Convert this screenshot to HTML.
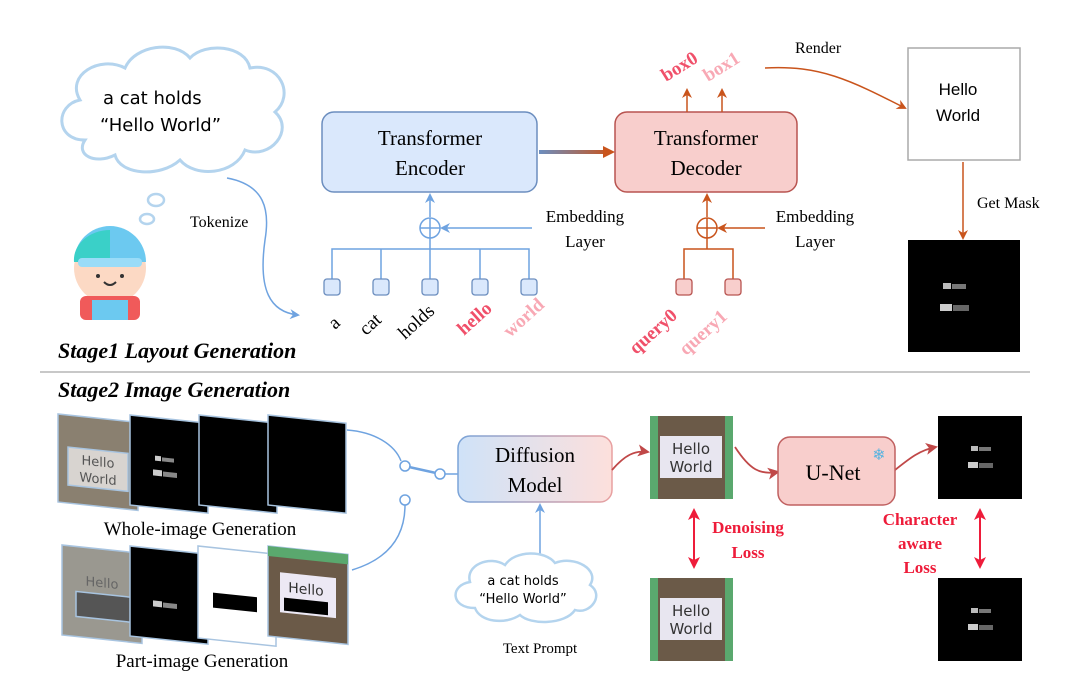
<!DOCTYPE html>
<html><head><meta charset="utf-8"><style>
html,body{margin:0;padding:0;background:#fff;}
svg{display:block;}
.s{font-family:"Liberation Serif",serif;}
.c{font-family:"DejaVu Sans","Liberation Sans",sans-serif;}
</style></head><body>
<svg width="1080" height="685" viewBox="0 0 1080 685" xmlns="http://www.w3.org/2000/svg">
<defs>
<marker id="ab" markerWidth="10" markerHeight="10" refX="8" refY="5" orient="auto" markerUnits="userSpaceOnUse"><path d="M0,0 L10,5 L0,10 L3,5 z" fill="#6fa3e0"/></marker>
<marker id="ao" markerWidth="10" markerHeight="10" refX="8" refY="5" orient="auto" markerUnits="userSpaceOnUse"><path d="M0,0 L10,5 L0,10 L3,5 z" fill="#c9541c"/></marker>
<marker id="ar" markerWidth="12" markerHeight="12" refX="10" refY="6" orient="auto" markerUnits="userSpaceOnUse"><path d="M0,0 L12,6 L0,12 L3,6 z" fill="#c04848"/></marker>
<marker id="aR" markerWidth="12" markerHeight="12" refX="10" refY="6" orient="auto-start-reverse" markerUnits="userSpaceOnUse"><path d="M0,0 L12,6 L0,12 L3,6 z" fill="#ee1c3a"/></marker>
<linearGradient id="g1" gradientUnits="userSpaceOnUse" x1="539" y1="0" x2="612" y2="0"><stop offset="0" stop-color="#6c8ebf"/><stop offset="1" stop-color="#c9541c"/></linearGradient>
<linearGradient id="g2" x1="0" x2="1"><stop offset="0" stop-color="#cfe2f8"/><stop offset="1" stop-color="#fde0dc"/></linearGradient>
<linearGradient id="g3" x1="0" x2="1"><stop offset="0" stop-color="#7ba4d8"/><stop offset="1" stop-color="#e8a0a0"/></linearGradient>
<g id="cat">
<rect width="83" height="83" fill="#5aa86e"/>
<rect x="8" y="0" width="67" height="83" fill="#6b5a48"/>
<rect x="10" y="20" width="62" height="42" fill="#e8e6f0"/>
<text x="41" y="38" text-anchor="middle" font-family="DejaVu Sans" font-size="15" fill="#333">Hello</text>
<text x="41" y="56" text-anchor="middle" font-family="DejaVu Sans" font-size="15" fill="#333">World</text>
</g>
<g id="msk">
<rect width="84" height="83" fill="#000"/>
<rect x="33" y="30" width="7" height="5" fill="#bbb"/><rect x="41" y="31" width="12" height="4" fill="#777"/>
<rect x="30" y="46" width="10" height="6" fill="#ccc"/><rect x="41" y="47" width="14" height="5" fill="#666"/>
</g>
</defs>

<!-- cloud top -->
<path d="M85,140 C55,140 55,105 80,100 C65,75 100,55 125,68 C135,45 175,40 190,58 C205,42 245,45 250,68 C280,62 295,95 275,112 C295,130 270,160 245,150 C235,175 195,178 180,160 C160,178 120,175 115,155 C95,165 75,155 85,140 z" fill="#fff" stroke="#b4d4ee" stroke-width="3"/>
<text class="c" x="103" y="104" font-size="18">a cat holds</text>
<text class="c" x="100" y="131" font-size="18">“Hello World”</text>
<ellipse cx="156" cy="200" rx="8" ry="6" fill="#fff" stroke="#b4d4ee" stroke-width="2.5"/>
<ellipse cx="147" cy="219" rx="7" ry="5" fill="#fff" stroke="#b4d4ee" stroke-width="2.5"/>
<!-- kid -->
<circle cx="110" cy="268" r="36" fill="#fcd9c4"/>
<path d="M74,262 A36,36 0 0 1 146,262 z" fill="#6cc9f0"/>
<path d="M74,262 A36,30 0 0 1 110,230 L110,262 z" fill="#3ad0c8"/>
<rect x="78" y="258" width="64" height="9" rx="4" fill="#9adcf8"/>
<circle cx="98" cy="276" r="2" fill="#333"/><circle cx="122" cy="276" r="2" fill="#333"/>
<path d="M104,282 Q110,288 116,282" fill="none" stroke="#333" stroke-width="2"/>
<rect x="80" y="296" width="60" height="24" rx="6" fill="#f05a5a"/>
<rect x="92" y="300" width="36" height="20" fill="#6cc9f0"/>
<!-- tokenize -->
<path d="M227,178 C265,185 270,210 265,240 C258,290 270,312 298,315" fill="none" stroke="#6fa3e0" stroke-width="1.5" marker-end="url(#ab)"/>
<text class="s" x="190" y="227" font-size="16">Tokenize</text>

<!-- encoder -->
<rect x="322" y="112" width="215" height="80" rx="12" fill="#dae8fc" stroke="#6c8ebf" stroke-width="1.5"/>
<text class="s" x="430" y="145" font-size="21" text-anchor="middle">Transformer</text>
<text class="s" x="430" y="175" font-size="21" text-anchor="middle">Encoder</text>
<line x1="539" y1="152" x2="607" y2="152" stroke="url(#g1)" stroke-width="4"/>
<path d="M603,146 L615,152 L603,158 z" fill="#c9541c"/>
<!-- decoder -->
<rect x="615" y="112" width="182" height="80" rx="12" fill="#f8cecc" stroke="#b85450" stroke-width="1.5"/>
<text class="s" x="706" y="145" font-size="21" text-anchor="middle">Transformer</text>
<text class="s" x="706" y="175" font-size="21" text-anchor="middle">Decoder</text>

<!-- encoder inputs -->
<g stroke="#6fa3e0" stroke-width="1.5" fill="none">
<line x1="430" y1="217" x2="430" y2="195" marker-end="url(#ab)"/>
<circle cx="430" cy="228" r="10"/>
<line x1="420" y1="228" x2="440" y2="228"/><line x1="430" y1="218" x2="430" y2="249"/>
<line x1="532" y1="228" x2="442" y2="228" marker-end="url(#ab)"/>
<path d="M332,279 V249 H529 V279 M381,249 V279 M430,249 V279 M480,249 V279"/>
</g>
<g fill="#dae8fc" stroke="#6c8ebf" stroke-width="1.3">
<rect x="324" y="279" width="16" height="16" rx="3"/><rect x="373" y="279" width="16" height="16" rx="3"/><rect x="422" y="279" width="16" height="16" rx="3"/><rect x="472" y="279" width="16" height="16" rx="3"/><rect x="521" y="279" width="16" height="16" rx="3"/>
</g>
<text class="s" x="585" y="222" font-size="17" text-anchor="middle">Embedding</text>
<text class="s" x="585" y="247" font-size="17" text-anchor="middle">Layer</text>
<g class="s" font-size="19">
<text transform="translate(335,330) rotate(-42)">a</text>
<text transform="translate(366,336) rotate(-42)">cat</text>
<text transform="translate(405,340) rotate(-42)">holds</text>
<text transform="translate(464,336) rotate(-42)" fill="#f0506a" font-weight="bold">hello</text>
<text transform="translate(510,338) rotate(-42)" fill="#f8a8b4" font-weight="bold">world</text>
</g>
<!-- decoder inputs -->
<g stroke="#c9541c" stroke-width="1.5" fill="none">
<line x1="707" y1="217" x2="707" y2="195" marker-end="url(#ao)"/>
<circle cx="707" cy="228" r="10"/>
<line x1="697" y1="228" x2="717" y2="228"/><line x1="707" y1="218" x2="707" y2="249"/>
<line x1="765" y1="228" x2="719" y2="228" marker-end="url(#ao)"/>
<path d="M684,279 V249 H733 V279"/>
<line x1="687" y1="112" x2="687" y2="90" marker-end="url(#ao)"/>
<line x1="722" y1="112" x2="722" y2="90" marker-end="url(#ao)"/>
<path d="M765,68 C820,65 850,80 905,108" marker-end="url(#ao)"/>
<line x1="963" y1="162" x2="963" y2="238" marker-end="url(#ao)"/>
</g>
<g fill="#f8cecc" stroke="#b85450" stroke-width="1.3">
<rect x="676" y="279" width="16" height="16" rx="3"/><rect x="725" y="279" width="16" height="16" rx="3"/>
</g>
<text class="s" x="815" y="222" font-size="17" text-anchor="middle">Embedding</text>
<text class="s" x="815" y="247" font-size="17" text-anchor="middle">Layer</text>
<g class="s" font-size="19" font-weight="bold">
<text transform="translate(636,355) rotate(-42)" fill="#f0506a">query0</text>
<text transform="translate(686,356) rotate(-42)" fill="#f8a8b4">query1</text>
<text transform="translate(666,82) rotate(-32)" fill="#f0506a">box0</text>
<text transform="translate(708,82) rotate(-32)" fill="#f8a8b4">box1</text>
</g>
<text class="s" x="795" y="53" font-size="16">Render</text>
<rect x="908" y="48" width="112" height="112" fill="#fff" stroke="#aaa" stroke-width="1.5"/>
<text x="958" y="95" font-family="Liberation Sans" font-size="17" text-anchor="middle">Hello</text>
<text x="958" y="121" font-family="Liberation Sans" font-size="17" text-anchor="middle">World</text>
<text class="s" x="977" y="208" font-size="16">Get Mask</text>
<rect x="908" y="240" width="112" height="112" fill="#000"/>
<rect x="943" y="283" width="8" height="6" fill="#bbb"/><rect x="952" y="284" width="14" height="5" fill="#777"/>
<rect x="940" y="304" width="12" height="7" fill="#ccc"/><rect x="953" y="305" width="16" height="6" fill="#666"/>

<text class="s" x="58" y="358" font-size="22" font-weight="bold" font-style="italic">Stage1 Layout Generation</text>
<line x1="40" y1="372" x2="1030" y2="372" stroke="#c8c8c8" stroke-width="2"/>
<text class="s" x="58" y="397" font-size="22" font-weight="bold" font-style="italic">Stage2 Image Generation</text>

<!-- stacks -->
<g stroke="#a8c4e0" stroke-width="1.5">
<g transform="translate(58,414) skewY(6)"><rect width="80" height="88" fill="#8a8070"/><rect x="10" y="32" width="60" height="38" fill="#d8d4d0"/><text x="40" y="48" text-anchor="middle" font-family="DejaVu Sans" font-size="13" fill="#555" stroke="none">Hello</text><text x="40" y="65" text-anchor="middle" font-family="DejaVu Sans" font-size="13" fill="#555" stroke="none">World</text></g>
<g transform="translate(130,415) skewY(6)"><rect width="78" height="90" fill="#000"/><rect x="25" y="38" width="6" height="5" fill="#ccc" stroke="none"/><rect x="32" y="39" width="12" height="4" fill="#888" stroke="none"/><rect x="23" y="52" width="9" height="6" fill="#ccc" stroke="none"/><rect x="33" y="53" width="14" height="5" fill="#888" stroke="none"/></g>
<g transform="translate(199,415) skewY(6)"><rect width="78" height="90" fill="#000"/></g>
<g transform="translate(268,415) skewY(6)"><rect width="78" height="90" fill="#000"/></g>
<g transform="translate(62,545) skewY(6)"><rect width="80" height="90" fill="#9a9890"/><rect x="14" y="45" width="55" height="25" fill="#555"/><text x="40" y="38" text-anchor="middle" font-family="DejaVu Sans" font-size="13" fill="#666" stroke="none">Hello</text></g>
<g transform="translate(130,546) skewY(6)"><rect width="78" height="90" fill="#000"/><rect x="23" y="52" width="9" height="6" fill="#ccc" stroke="none"/><rect x="33" y="53" width="14" height="5" fill="#888" stroke="none"/></g>
<g transform="translate(198,546) skewY(6)"><rect width="78" height="92" fill="#fff"/><rect x="15" y="45" width="44" height="15" fill="#000" stroke="none"/></g>
<g transform="translate(268,546) skewY(6)"><rect width="80" height="90" fill="#6b5a48"/><rect x="0" y="0" width="80" height="10" fill="#5aa86e" stroke="none"/><rect x="12" y="25" width="56" height="40" fill="#ece8f4" stroke="none"/><rect x="16" y="50" width="44" height="13" fill="#000" stroke="none"/><text x="38" y="44" text-anchor="middle" font-family="DejaVu Sans" font-size="14" fill="#333" stroke="none">Hello</text></g>
</g>
<text class="s" x="200" y="535" font-size="19" text-anchor="middle">Whole-image Generation</text>
<text class="s" x="202" y="667" font-size="19" text-anchor="middle">Part-image Generation</text>
<!-- switch -->
<g stroke="#6fa3e0" stroke-width="1.5" fill="none">
<path d="M347,430 C375,432 395,445 401,461"/>
<circle cx="405" cy="466" r="5" fill="#fff"/>
<line x1="409" y1="467" x2="436" y2="473" stroke-width="2.5"/>
<circle cx="440" cy="474" r="5" fill="#fff"/>
<line x1="445" y1="474" x2="458" y2="474"/>
<circle cx="405" cy="500" r="5" fill="#fff"/>
<path d="M405,505 C405,540 385,560 352,570"/>
<line x1="540" y1="560" x2="540" y2="505" marker-end="url(#ab)"/>
</g>
<rect x="458" y="436" width="154" height="66" rx="12" fill="url(#g2)" stroke="url(#g3)" stroke-width="1.5"/>
<text class="s" x="535" y="462" font-size="21" text-anchor="middle">Diffusion</text>
<text class="s" x="535" y="492" font-size="21" text-anchor="middle">Model</text>
<path d="M475,608 C450,608 450,585 470,582 C465,565 490,555 505,565 C515,550 545,550 555,563 C575,555 600,570 590,585 C605,595 590,615 575,610 C565,625 530,625 520,615 C505,625 480,622 475,608 z" fill="#fff" stroke="#b4d4ee" stroke-width="2.5"/>
<text class="c" x="523" y="585" font-size="13" text-anchor="middle">a cat holds</text>
<text class="c" x="523" y="603" font-size="13" text-anchor="middle">“Hello World”</text>
<text class="s" x="540" y="653" font-size="15" text-anchor="middle">Text Prompt</text>

<use href="#cat" x="650" y="416"/>
<use href="#cat" x="650" y="578"/>
<use href="#msk" x="938" y="416"/>
<use href="#msk" x="938" y="578"/>
<g stroke="#c04848" stroke-width="1.8" fill="none">
<path d="M612,470 C625,455 635,450 648,452" marker-end="url(#ar)"/>
<path d="M735,447 C750,470 760,475 778,472" marker-end="url(#ar)"/>
<path d="M895,470 C910,458 920,450 936,447" marker-end="url(#ar)"/>
</g>
<rect x="778" y="437" width="117" height="68" rx="12" fill="#f8cecc" stroke="#c06060" stroke-width="1.5"/>
<text class="s" x="833" y="480" font-size="22" text-anchor="middle">U-Net</text>
<text x="879" y="460" font-family="DejaVu Sans" font-size="16" fill="#5ab4e0" text-anchor="middle">❄</text>
<g stroke="#ee1c3a" stroke-width="2">
<line x1="694" y1="510" x2="694" y2="567" marker-start="url(#aR)" marker-end="url(#aR)"/>
<line x1="980" y1="510" x2="980" y2="567" marker-start="url(#aR)" marker-end="url(#aR)"/>
</g>
<g class="s" font-size="17" font-weight="bold" fill="#ee1c3a" text-anchor="middle">
<text x="748" y="533">Denoising</text>
<text x="748" y="558">Loss</text>
<text x="920" y="525">Character</text>
<text x="920" y="549">aware</text>
<text x="920" y="573">Loss</text>
</g>
</svg>
</body></html>
